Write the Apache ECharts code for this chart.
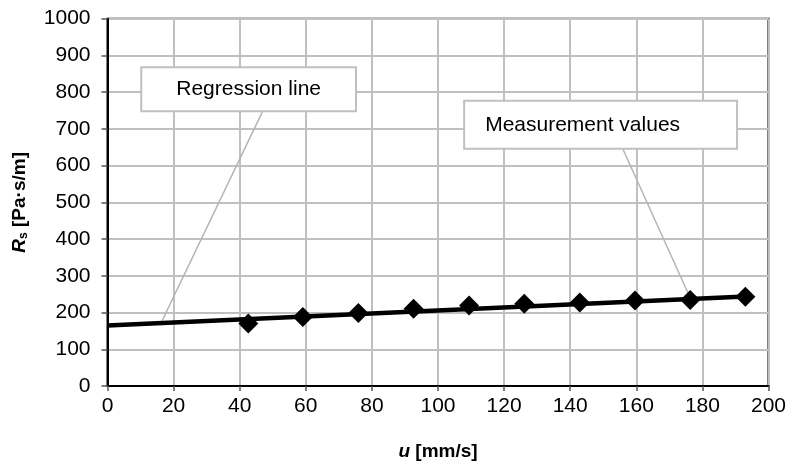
<!DOCTYPE html>
<html><head><meta charset="utf-8">
<script src="https://cdn.jsdelivr.net/npm/echarts@6/dist/echarts.min.js"></script>
<style>html,body{margin:0;padding:0;background:#fff}#c{width:801px;height:468px}</style>
</head><body><div id="c"></div><script>
// measured data
const velocity = [42.6, 59.1, 75.9, 92.6, 109.4, 126.1, 142.9, 159.6, 176.3, 193.0];
const resistance = [170, 188, 199, 210, 219, 224, 227, 233, 234, 243];
// regression line end points (u, Rs)
const regressionU = [0, 193];
const regressionR = [165, 244];
// annotation texts and anchors (data coordinates)
const labelTexts = ['Regression line', 'Measurement values'];
const labelAnchors = [[42.7, 808], [149.2, 711]];
const leaderStarts = [[47.0, 749], [155.9, 646]];
const leaderEnds = [[15.9, 166], [176.6, 234]];

const FONT = "'Liberation Sans', Arial, sans-serif";
const chart = echarts.init(document.getElementById('c'));
const measPts = velocity.map((u, i) => [u, resistance[i]]);
const regPts = regressionU.map((u, i) => [u, regressionR[i]]);

const leaderSeries = leaderStarts.map((s, i) => ({
  type: 'line', data: [s, leaderEnds[i]], symbol: 'none', silent: true, z: 3,
  lineStyle: {color: '#b4b4b4', width: 1.5}
}));

const boxLabel = (text, pad) => ({
  show: true, position: 'inside', formatter: text,
  fontFamily: FONT, fontSize: 21, color: '#000', opacity: 1,
  textBorderWidth: 0, textBorderColor: 'transparent', textShadowBlur: 0,
  backgroundColor: '#fff', borderColor: '#c0c0c0', borderWidth: 2,
  shadowBlur: 0, shadowColor: 'transparent', padding: pad
});

option = {
  animation: false,
  backgroundColor: '#fff',
  grid: {left: 107.5, right: 32.5, top: 18.7, bottom: 82, show: true, borderColor: '#000', borderWidth: 2, containLabel: false},
  xAxis: {
    type: 'value', min: 0, max: 200, interval: 20,
    name: '{i|u}{b| [mm/s]}', nameLocation: 'middle', nameGap: 56,
    nameTextStyle: {rich: {
      i: {fontFamily: FONT, fontSize: 19, fontWeight: 'bold', fontStyle: 'italic', color: '#000'},
      b: {fontFamily: FONT, fontSize: 19, fontWeight: 'bold', color: '#000'}}},
    axisLine: {show: true, lineStyle: {color: '#000', width: 2}},
    axisTick: {show: true, length: 5, lineStyle: {color: '#555', width: 1.5}},
    axisLabel: {fontFamily: FONT, fontSize: 21, color: '#000', margin: 10, formatter: v => String(v)},
    splitLine: {show: true, lineStyle: {color: '#c0c0c0', width: 2}}
  },
  yAxis: {
    type: 'value', min: 0, max: 1000, interval: 100,
    name: '{i|R}{s|s}{b| [Pa·s/m]}', nameLocation: 'middle', nameGap: 78,
    nameTextStyle: {rich: {
      i: {fontFamily: FONT, fontSize: 19, fontWeight: 'bold', fontStyle: 'italic', color: '#000'},
      s: {fontFamily: FONT, fontSize: 12, fontWeight: 'bold', color: '#000', padding: [8, 0, 0, 0]},
      b: {fontFamily: FONT, fontSize: 19, fontWeight: 'bold', color: '#000'}}},
    axisLine: {show: true, lineStyle: {color: '#000', width: 2}},
    axisTick: {show: true, length: 6, lineStyle: {color: '#555', width: 1.5}},
    axisLabel: {fontFamily: FONT, fontSize: 21, color: '#000', margin: 17, formatter: v => String(v)},
    splitLine: {show: true, lineStyle: {color: '#c0c0c0', width: 2}}
  },
  series: [
    ...leaderSeries,
    {
      type: 'line', name: 'Regression', data: regPts, symbol: 'none', z: 4,
      lineStyle: {color: '#000', width: 4.5}
    },
    {
      type: 'scatter', name: 'Measurement', data: measPts, symbol: 'diamond', symbolSize: 20, z: 5,
      itemStyle: {color: '#000', opacity: 1}
    },
    {
      type: 'scatter', z: 6, silent: true, symbolSize: 0, itemStyle: {color: '#fff', opacity: 1},
      data: [
        {value: labelAnchors[0], label: boxLabel(labelTexts[0], [11, 34, 10, 34])},
        {value: labelAnchors[1], label: boxLabel(labelTexts[1], [13, 56, 12, 20])}
      ]
    }
  ]
};
chart.setOption(option);
</script></body></html>
